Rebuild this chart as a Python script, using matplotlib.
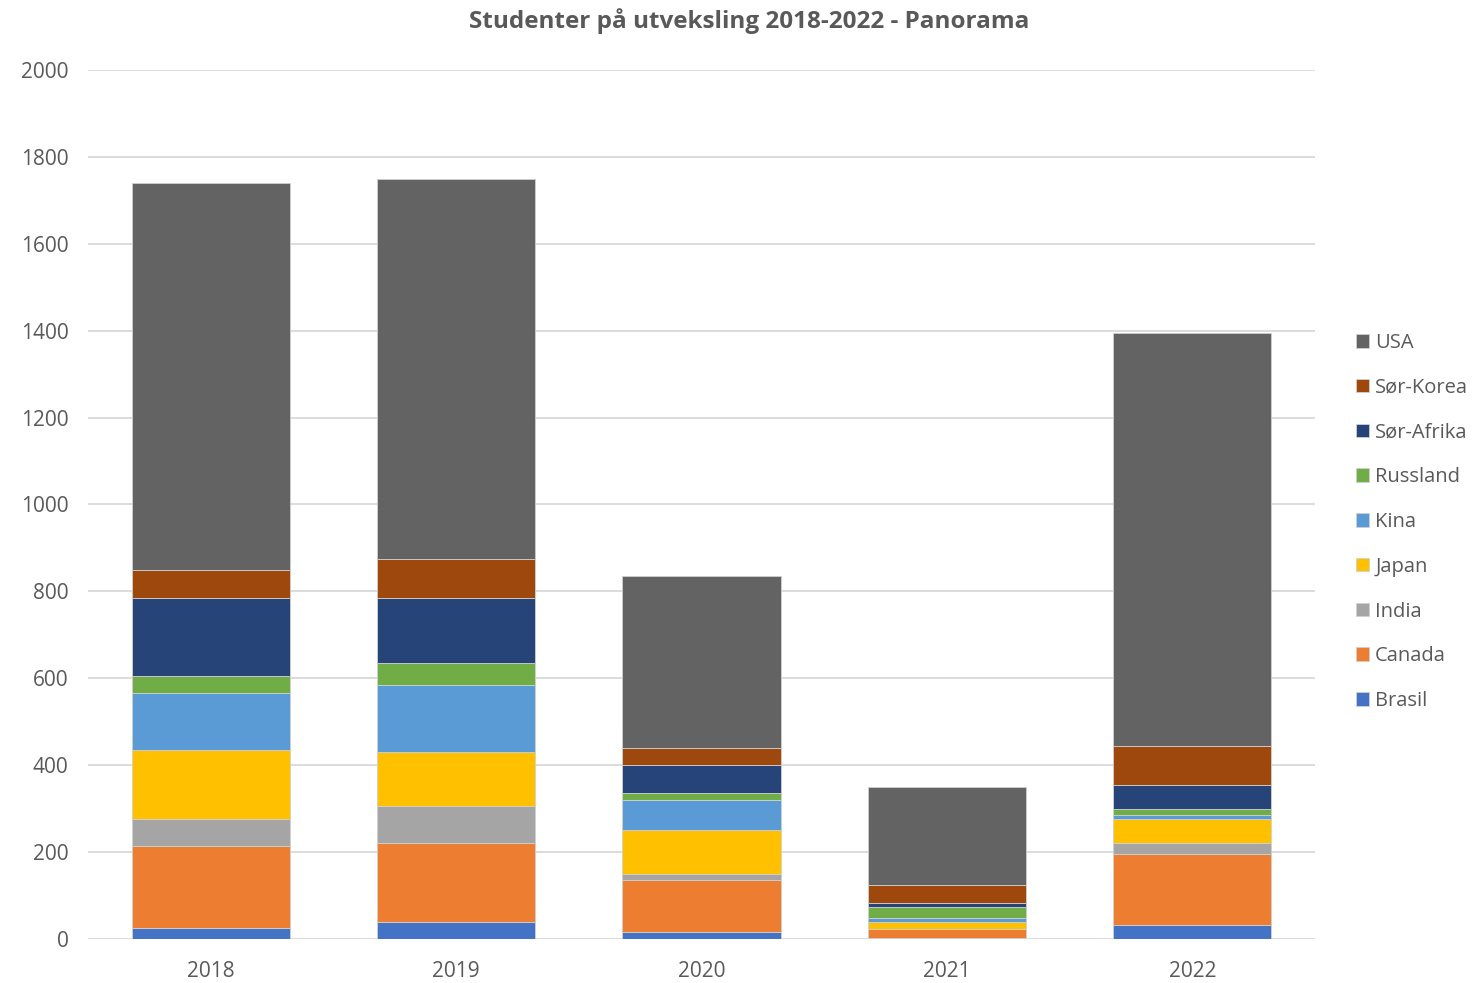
import numpy as np
import matplotlib.pyplot as plt

years = ['2018', '2019', '2020', '2021', '2022']
countries = ['Brasil', 'Canada', 'India', 'Japan', 'Kina', 'Russland',
             'Sør-Afrika', 'Sør-Korea', 'USA']

brasil = [25, 40, 15, 3, 33]
canada = [190, 180, 120, 20, 162]
india = [60, 85, 15, 0, 25]
japan = [160, 125, 100, 16, 55]
kina = [130, 155, 70, 9, 10]
russland = [40, 50, 15, 25, 15]
sor_afrika = [180, 150, 65, 10, 55]
sor_korea = [65, 90, 40, 41, 90]
usa = [890, 875, 395, 226, 950]

series = [brasil, canada, india, japan, kina, russland, sor_afrika, sor_korea, usa]
colors = ['#4472C4', '#ED7D31', '#A5A5A5', '#FFC000', '#5B9BD5', '#70AD47',
          '#264478', '#9E480E', '#636363']

plt.rcParams['font.family'] = ['Open Sans', 'DejaVu Sans']
txt = '#595959'

fig = plt.figure(figsize=(14.78, 9.83), dpi=100)
ax = fig.add_axes([0.0595, 0.0448, 0.8302, 0.884])

x = np.arange(len(years))
bottom = np.zeros(len(years))
handles = []
for name, vals, c in zip(countries, series, colors):
    b = ax.bar(x, vals, 0.645, bottom=bottom, color=c, label=name,
               edgecolor='#d0d0d0', linewidth=0.6, zorder=3)
    handles.append(b)
    bottom += np.array(vals)

ax.set_xlim(-0.5, 4.5)
ax.set_ylim(0, 2000)
ax.set_yticks(range(0, 2001, 200))
ax.set_xticks(x)
ax.set_xticklabels(years)
ax.grid(axis='y', color='#D9D9D9', linewidth=1.3, zorder=0)
for s in ax.spines.values():
    s.set_visible(False)
ax.tick_params(length=0, labelsize=15, colors=txt)
ax.tick_params(axis='x', pad=16)
ax.tick_params(axis='y', pad=14)

fig.text(0.507, 0.979, 'Studenter på utveksling 2018-2022 - Panorama',
         fontsize=17.5, fontweight='bold', color=txt, ha='center', va='center')

leg = fig.legend(handles[::-1], countries[::-1], loc='center left',
                 bbox_to_anchor=(0.9175, 0.469), frameon=False, fontsize=14.5,
                 labelcolor=txt, handlelength=0.65, handleheight=0.65,
                 handletextpad=0.3, labelspacing=1.23, borderpad=0,
                 borderaxespad=0)

fig.savefig('out.png', dpi=100)
